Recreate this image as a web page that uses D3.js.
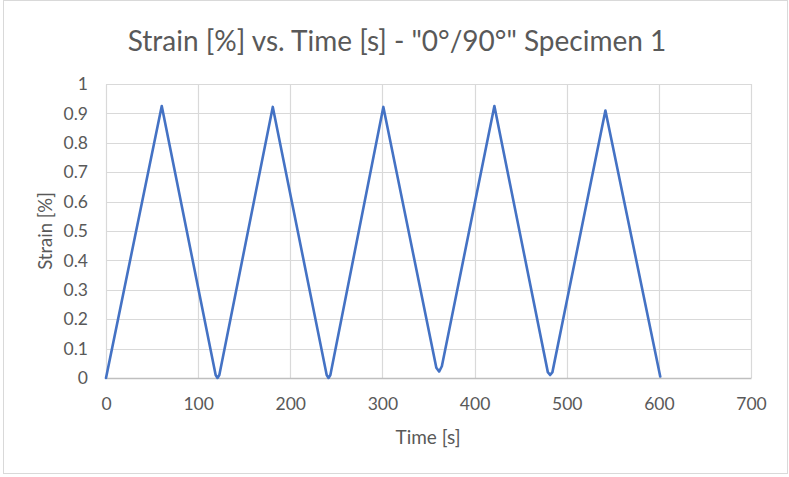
<!DOCTYPE html>
<html>
<head>
<meta charset="utf-8">
<script src="https://cdn.jsdelivr.net/npm/d3@7"></script>
<style>
  html, body { margin: 0; padding: 0; background: #fff; }
  svg { display: block; }
  text { font-family: Lato, "Open Sans", sans-serif; fill: #595959; }
</style>
</head>
<body>
<svg id="chart" width="789" height="477"></svg>
<script>
// Strain history: cyclic loading, time in seconds, strain in percent
const timeS   = [0, 60.5, 119, 121, 123, 181, 239.5, 241.5, 243.5, 301, 358.5, 361.5, 364.5, 421.5, 479.5, 482, 484.5, 542, 601.5];
const strainP = [0, 0.925, 0.01, 0.0, 0.01, 0.922, 0.01, 0.0, 0.01, 0.922, 0.035, 0.022, 0.04, 0.925, 0.02, 0.01, 0.02, 0.91, 0.005];

const xTicks = [0, 100, 200, 300, 400, 500, 600, 700];
const yTicks = [0, 0.1, 0.2, 0.3, 0.4, 0.5, 0.6, 0.7, 0.8, 0.9, 1];

const titleText = 'Strain [%] vs. Time [s] - "0°/90°" Specimen 1';
const xTitle = 'Time [s]';
const yTitle = 'Strain [%]';

const svg = d3.select('#chart');
const plot = { left: 106, right: 751, top: 84, bottom: 378 };

// outer chart frame
svg.append('rect')
  .attr('x', 3.5).attr('y', 0.5)
  .attr('width', 784).attr('height', 473)
  .attr('fill', '#fff').attr('stroke', '#d9d9d9').attr('stroke-width', 1);

const x = d3.scaleLinear().domain([0, 700]).range([plot.left, plot.right]);
const y = d3.scaleLinear().domain([0, 1]).range([plot.bottom, plot.top]);

// gridlines
const grid = svg.append('g').attr('stroke', '#d9d9d9').attr('stroke-width', 1.2);
grid.selectAll('line.v').data(xTicks.slice(1)).join('line')
  .attr('x1', d => Math.round(x(d)) + 0.5).attr('x2', d => Math.round(x(d)) + 0.5)
  .attr('y1', plot.top).attr('y2', plot.bottom);
grid.selectAll('line.h').data(yTicks.slice(1)).join('line')
  .attr('x1', plot.left).attr('x2', plot.right)
  .attr('y1', d => Math.round(y(d)) + 0.5).attr('y2', d => Math.round(y(d)) + 0.5);

// x axis
const xAxis = d3.axisBottom(x).tickValues(xTicks).tickSize(0).tickPadding(20).tickFormat(d3.format('d'));
const gx = svg.append('g').attr('transform', `translate(0,${plot.bottom})`).call(xAxis);
gx.select('.domain').attr('stroke', '#bfbfbf').attr('stroke-width', 1.3);
gx.selectAll('text').style('font-size', '17.5px').attr('fill', '#595959');

// y axis
const yAxis = d3.axisLeft(y).tickValues(yTicks).tickSize(0).tickPadding(18).tickFormat(d => d === 0 || d === 1 ? d3.format('d')(d) : d3.format('.1f')(d));
const gy = svg.append('g').attr('transform', `translate(${plot.left},0)`).call(yAxis);
gy.select('.domain').attr('stroke', '#d9d9d9').attr('stroke-width', 1.2);
gy.selectAll('text').style('font-size', '17.5px').attr('fill', '#595959');

// data line
const line = d3.line().x((d, i) => x(timeS[i])).y(d => y(d));
svg.append('path')
  .datum(strainP)
  .attr('d', line)
  .attr('fill', 'none')
  .attr('stroke', '#4472c4')
  .attr('stroke-width', 2.6)
  .attr('stroke-linejoin', 'round')
  .attr('stroke-linecap', 'round');

// titles
svg.append('text').attr('x', 397).attr('y', 51)
  .attr('text-anchor', 'middle').style('font-size', '28px').text(titleText);
svg.append('text').attr('x', 428).attr('y', 444)
  .attr('text-anchor', 'middle').style('font-size', '19px').text(xTitle);
svg.append('text').attr('transform', `translate(52,${(plot.top + plot.bottom) / 2}) rotate(-90)`)
  .attr('text-anchor', 'middle').style('font-size', '18.5px').text(yTitle);
</script>
</body>
</html>
